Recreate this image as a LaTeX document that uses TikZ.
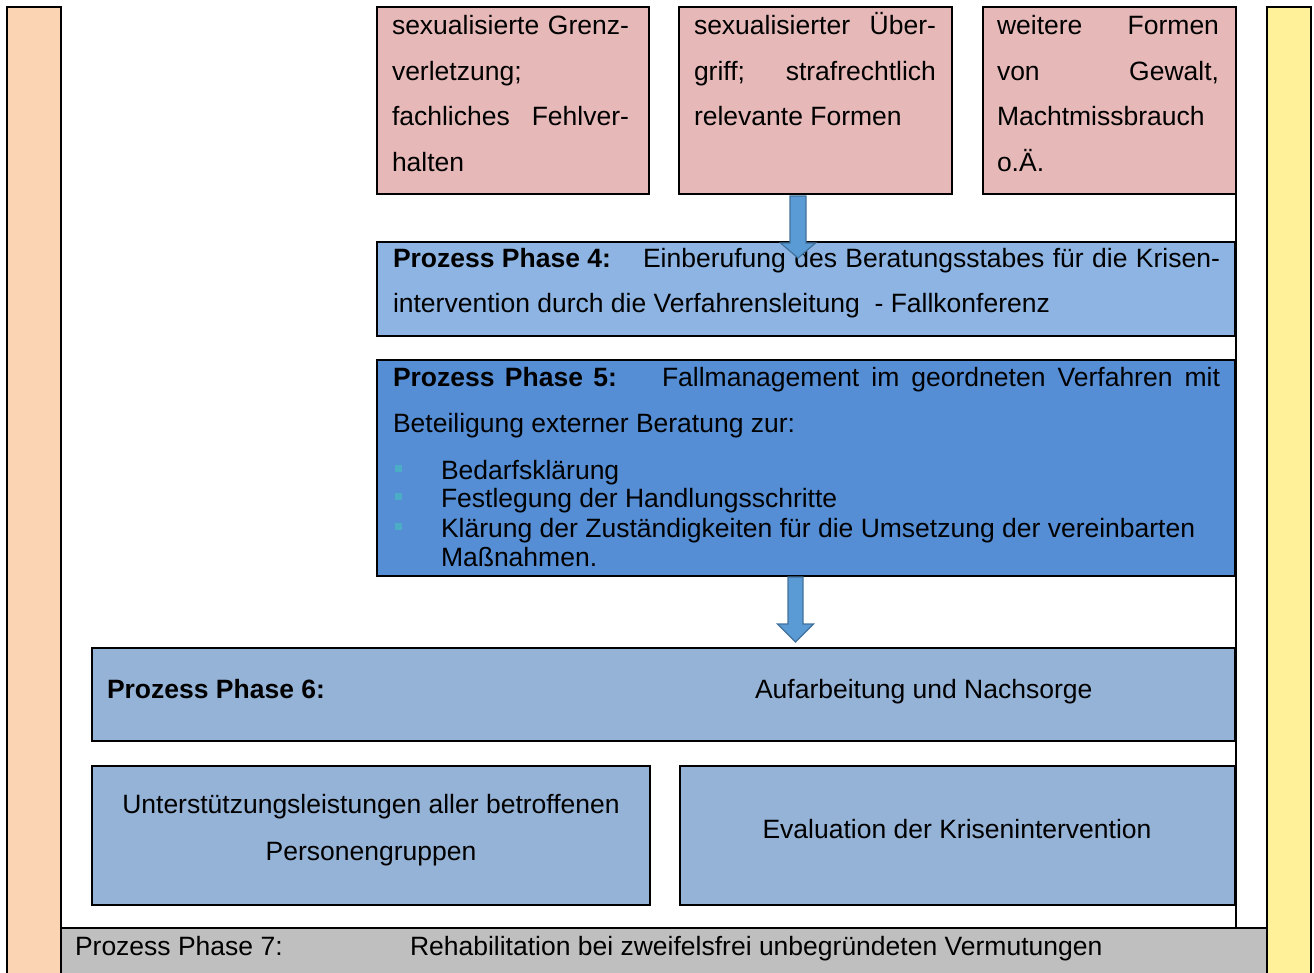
\documentclass[tikz,border=0pt]{standalone}
\usepackage{fontspec}
\setmainfont{Liberation Sans}
\usetikzlibrary{calc}
\definecolor{peach}{HTML}{FBD4B4}
\definecolor{lightyellow}{HTML}{FFF199}
\definecolor{rosebox}{HTML}{E6B9B8}
\definecolor{phasefour}{HTML}{8DB4E2}
\definecolor{phasefive}{HTML}{558ED5}
\definecolor{phasesix}{HTML}{95B3D7}
\definecolor{greybar}{HTML}{BFBFBF}
\definecolor{arrowfill}{HTML}{5B9BD5}
\definecolor{arrowline}{HTML}{41719C}
\definecolor{bulletcol}{HTML}{4BACC6}
\begin{document}
\begin{tikzpicture}[x=1pt,y=-1pt,
  every node/.style={inner sep=0pt, outer sep=0pt},
  box/.style={draw=black, line width=2pt, anchor=north west},
  txt/.style={anchor=base west, font=\fontsize{26.5pt}{30pt}\selectfont},
  ctxt/.style={anchor=base, font=\fontsize{26.5pt}{30pt}\selectfont},
  blockarrow/.style={fill=arrowfill, draw=arrowline, line width=1.2pt, line join=miter},
  bulletsq/.style={fill=bulletcol, minimum width=7pt, minimum height=7pt}]
\useasboundingbox (0,0) rectangle (1314,973);
% side bars
\node[box, fill=peach, minimum width=54pt, minimum height=970pt] (leftbar) at (7,7) {};
\node[box, fill=lightyellow, minimum width=44pt, minimum height=970pt] (rightbar) at (1267,7) {};
% frame line right
\coordinate (frtop) at (1236,7);
\coordinate (frbot) at (1236,928);
\draw[line width=2pt] (frtop) -- (frbot);
% top boxes
\node[box, fill=rosebox, minimum width=272pt, minimum height=187pt] (b1) at (377,7) {};
\node[box, fill=rosebox, minimum width=273pt, minimum height=187pt] (b2) at (679,7) {};
\node[box, fill=rosebox, minimum width=253pt, minimum height=187pt] (b3) at (983,7) {};
\node[txt] at (392,35) {\makebox[237pt][s]{sexualisierte Grenz-}};
\node[txt] at (392,81) {verletzung;};
\node[txt] at (392,126) {\makebox[237pt][s]{fachliches Fehlver-}};
\node[txt] at (392,172) {halten};
\node[txt] at (694,35) {\makebox[242pt][s]{sexualisierter Über-}};
\node[txt] at (694,81) {\makebox[242pt][s]{griff; strafrechtlich}};
\node[txt] at (694,126) {relevante Formen};
\node[txt] at (997,35) {\makebox[222pt][s]{weitere Formen}};
\node[txt] at (997,81) {\makebox[222pt][s]{von Gewalt,}};
\node[txt] at (997,126) {Machtmissbrauch};
\node[txt] at (997,172) {o.Ä.};
% phase 4
\node[box, fill=phasefour, minimum width=858pt, minimum height=94pt] (p4) at (377,242) {};
\node[txt] at (393,268) {\textbf{Prozess Phase 4:}};
\node[txt] at (643,268) {\makebox[577pt][s]{Einberufung des Beratungsstabes für die Krisen-}};
\node[txt] at (393,313) {intervention durch die Verfahrensleitung\ \ - Fallkonferenz};
% phase 5
\node[box, fill=phasefive, minimum width=858pt, minimum height=216pt] (p5) at (377,360) {};
\node[txt] at (393,386) {\makebox[224pt][s]{\textbf{Prozess Phase 5:}}};
\node[txt] at (662,386) {\makebox[558pt][s]{Fallmanagement im geordneten Verfahren mit}};
\node[txt] at (393,432) {Beteiligung externer Beratung zur:};
\node[bulletsq] at (398,468) {};
\node[bulletsq] at (398,496) {};
\node[bulletsq] at (398,526) {};
\node[txt] at (441,479) {Bedarfsklärung};
\node[txt] at (441,507) {Festlegung der Handlungsschritte};
\node[txt] at (441,537) {Klärung der Zuständigkeiten für die Umsetzung der vereinbarten};
\node[txt] at (441,566) {Maßnahmen.};
% phase 6
\node[box, fill=phasesix, minimum width=1143pt, minimum height=93pt] (p6) at (92,648) {};
\node[txt] at (107,698) {\textbf{Prozess Phase 6:}};
\node[txt] at (755,698) {Aufarbeitung und Nachsorge};
% bottom boxes
\node[box, fill=phasesix, minimum width=558pt, minimum height=139pt] (ba) at (92,766) {};
\node[box, fill=phasesix, minimum width=555pt, minimum height=139pt] (bb) at (680,766) {};
\node[ctxt] at (371,813) {Unterstützungsleistungen aller betroffenen};
\node[ctxt] at (371,860) {Personengruppen};
\node[ctxt] at (957,838) {Evaluation der Krisenintervention};
% phase 7
\node[box, fill=greybar, minimum width=1206pt, minimum height=50pt] (p7) at (61,928) {};
\node[txt] at (75,955) {Prozess Phase 7:};
\node[txt] at (410,955) {Rehabilitation bei zweifelsfrei unbegründeten Vermutungen};
% arrows
\coordinate (a1s) at (798,196);
\coordinate (a1e) at (798,258);
\draw[blockarrow] ($(a1s)+(-8,0)$) -- ($(a1s)+(8,0)$) -- ($(a1e)+(8,-15)$) -- ($(a1e)+(17.5,-15)$) -- (a1e) -- ($(a1e)+(-17.5,-15)$) -- ($(a1e)+(-8,-15)$) -- cycle;
\coordinate (a2s) at (795.5,577);
\coordinate (a2e) at (795.5,642);
\draw[blockarrow] ($(a2s)+(-7.5,0)$) -- ($(a2s)+(7.5,0)$) -- ($(a2e)+(7.5,-18)$) -- ($(a2e)+(18,-18)$) -- (a2e) -- ($(a2e)+(-18,-18)$) -- ($(a2e)+(-7.5,-18)$) -- cycle;
\end{tikzpicture}
\end{document}
